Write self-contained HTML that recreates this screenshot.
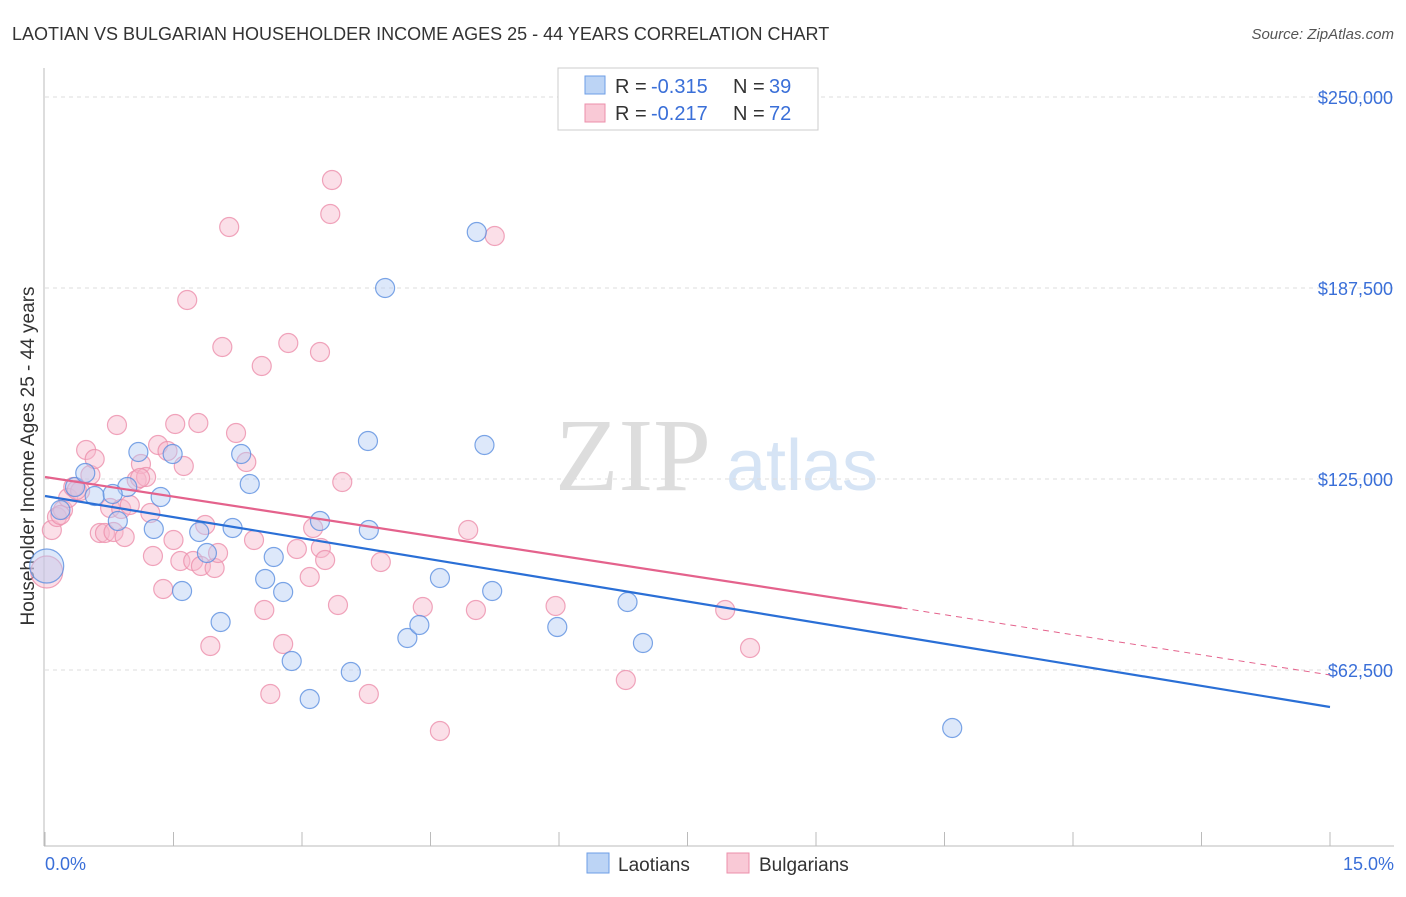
<!DOCTYPE html>
<html><head><meta charset="utf-8"><style>
body{margin:0;background:#fff;font-family:"Liberation Sans",sans-serif}
</style></head><body>
<svg id="c" width="1406" height="892" xmlns="http://www.w3.org/2000/svg">
<text x="12" y="40" font-size="18" fill="#333">LAOTIAN VS BULGARIAN HOUSEHOLDER INCOME AGES 25 - 44 YEARS CORRELATION CHART</text>
<text x="1394" y="39" font-size="15" fill="#555" text-anchor="end" font-style="italic">Source: ZipAtlas.com</text>
<text x="633" y="490" font-size="104" fill="#ddd" text-anchor="middle" font-family="Liberation Serif">ZIP</text>
<text x="802" y="490" font-size="72" fill="#d6e4f5" text-anchor="middle">atlas</text>
<text transform="translate(34,456) rotate(-90)" font-size="19" fill="#333" text-anchor="middle">Householder Income Ages 25 - 44 years</text>
<g id="grid"></g><g id="pts"></g><g id="lines"></g>
<g>
<rect x="558" y="68" width="260" height="62" fill="#fff" stroke="#ccc"/>
<rect x="585" y="76" width="20" height="18" fill="#bcd4f5" stroke="#6d9ee6"/>
<text x="615" y="93" font-size="20" fill="#333">R =</text><text x="651" y="93" font-size="20" fill="#3a6fd8">-0.315</text>
<text x="733" y="93" font-size="20" fill="#333">N =</text><text x="769" y="93" font-size="20" fill="#3a6fd8">39</text>
<rect x="585" y="104" width="20" height="18" fill="#f9c9d6" stroke="#ec8fab"/>
<text x="615" y="120" font-size="20" fill="#333">R =</text><text x="651" y="120" font-size="20" fill="#3a6fd8">-0.217</text>
<text x="733" y="120" font-size="20" fill="#333">N =</text><text x="769" y="120" font-size="20" fill="#3a6fd8">72</text>
</g>
<g>
<rect x="587" y="853" width="22" height="20" fill="#bcd4f5" stroke="#6d9ee6"/>
<text x="618" y="871" font-size="19" fill="#333">Laotians</text>
<rect x="727" y="853" width="22" height="20" fill="#f9c9d6" stroke="#ec8fab"/>
<text x="759" y="871" font-size="19" fill="#333">Bulgarians</text>
</g>
</svg>
<script>
const yTicks=[62500,125000,187500,250000];
const yTickLabels=["$62,500","$125,000","$187,500","$250,000"];
const xTickLabels=["0.0%","15.0%"];
const laoX=[0.02,0.18,0.35,0.47,0.58,0.85,0.96,1.09,1.27,1.35,1.49,1.6,1.8,1.89,2.05,2.19,2.29,2.39,2.57,2.67,2.78,2.88,3.09,3.21,3.57,3.77,3.78,3.97,4.23,4.37,4.61,5.04,5.13,5.22,5.98,6.8,6.98,10.59,0.79];
const laoY=[96530,114856,122382,126963,119437,111257,122382,133835,108639,119110,133181,88351,107657,100785,78207,108966,133181,123364,92277,99476,88024,65445,53010,111257,61846,137435,108312,187500,72971,77225,92605,205825,136126,88351,76571,84751,71336,43520,120092];
const bulX=[0.02,0.08,0.14,0.21,0.27,0.33,0.41,0.48,0.53,0.58,0.64,0.7,0.76,0.8,0.84,0.89,0.93,0.99,1.07,1.12,1.18,1.23,1.26,1.32,1.38,1.43,1.5,1.52,1.58,1.62,1.66,1.73,1.79,1.82,1.87,1.93,1.98,2.02,2.07,2.15,2.23,2.35,2.44,2.53,2.56,2.63,2.78,2.84,2.94,3.09,3.13,3.21,3.22,3.27,3.33,3.35,3.42,3.47,3.78,3.92,4.41,4.61,4.94,5.03,5.25,5.96,6.78,7.94,8.23,0.18,0.37,1.11];
const bulY=[94568,108312,112565,114856,118783,122382,121073,134490,126309,131545,107330,107330,115511,107657,142670,115183,106021,116492,124674,129908,125654,113874,99804,136126,89005,134162,105039,142997,98168,129254,183573,98168,143325,96531,109948,70354,95877,100785,168194,207461,140052,130563,105039,161976,82134,54646,71009,169503,102094,92932,108966,166558,102421,98495,211715,222840,83770,124018,54646,97840,83115,42539,108312,82134,204516,83442,59230,82134,69699,113220,121401,125327];
const blueLine=[[0,119437],[15,50394]];
const pinkLine=[[0,125654],[10,82790],[15,60870]];
const X=v=>45+v/15*1285, Y=v=>97+(250000-v)/62500*191;
const NS="http://www.w3.org/2000/svg";
function mk(p,t,a){const e=document.createElementNS(NS,t);for(const k in a)e.setAttribute(k,a[k]);p.appendChild(e);return e;}
const svg=document.getElementById('c'),grid=document.getElementById('grid'),pts=document.getElementById('pts'),lines=document.getElementById('lines');
yTicks.forEach((t,i)=>{
 const l=mk(grid,'line',{x1:45,x2:1394,y1:Y(t),y2:Y(t),stroke:'#ddd','stroke-dasharray':'4,4'});
 
 
 const tx=mk(grid,'text',{x:1393,y:Y(t)+7,'font-size':18,fill:'#3a6fd8','text-anchor':'end'});tx.textContent=yTickLabels[i];
 
 
});
const ax=mk(grid,'line',{x1:44,x2:44,y1:68,y2:846,stroke:'#bbb'});


const bx=mk(grid,'line',{x1:44,x2:1394,y1:846,y2:846,stroke:'#bbb'});


for(let i=0;i<=10;i++){const t=mk(grid,'line',{x1:X(i*1.5),x2:X(i*1.5),y1:832,y2:846,stroke:'#bbb'});
 
 }
[[0,45,'start'],[15,1394,'end']].forEach((d,i)=>{const t=mk(grid,'text',{x:d[1],y:870,'font-size':18,fill:'#3a6fd8','text-anchor':d[2]});t.textContent=xTickLabels[i];
 
 });
function dots(xs,ys,fill,stroke,name){xs.forEach((x,i)=>{const r=i===0?(name==='laotian-point'?17:16):9.5;
 const c=mk(pts,'circle',{cx:X(x),cy:Y(ys[i]),r:r,fill:fill,'fill-opacity':0.45,stroke:stroke,'stroke-width':1.2,'stroke-opacity':0.8});
 
 });}
dots(bulX,bulY,'#f7b9cb','#ec8fab','bulgarian-point');
dots(laoX,laoY,'#b3cdf3','#5b8fe0','laotian-point');
const bl=mk(lines,'line',{x1:X(blueLine[0][0]),y1:Y(blueLine[0][1]),x2:X(blueLine[1][0]),y2:Y(blueLine[1][1]),stroke:'#2a6fd6','stroke-width':2.2});


const pl=mk(lines,'line',{x1:X(pinkLine[0][0]),y1:Y(pinkLine[0][1]),x2:X(pinkLine[1][0]),y2:Y(pinkLine[1][1]),stroke:'#e4628c','stroke-width':2.2});


const pd=mk(lines,'line',{x1:X(pinkLine[1][0]),y1:Y(pinkLine[1][1]),x2:X(pinkLine[2][0]),y2:Y(pinkLine[2][1]),stroke:'#e4628c','stroke-width':1,'stroke-dasharray':'6,5'});


</script>
</body></html>
